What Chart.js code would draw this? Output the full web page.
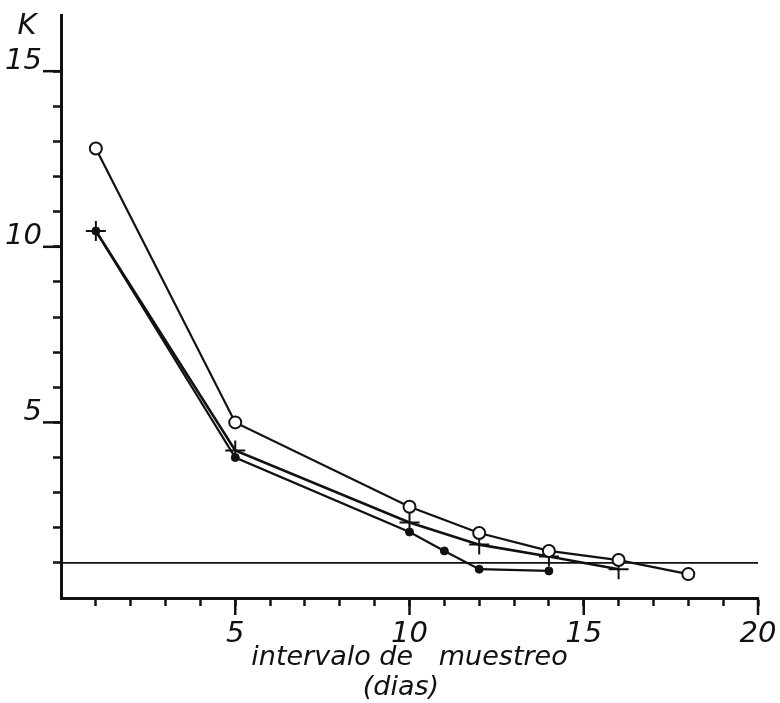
<!DOCTYPE html>
<html>
<head>
<meta charset="utf-8">
<script src="https://cdn.jsdelivr.net/npm/chart.js@4/dist/chart.umd.min.js"></script>
<style>
  html, body { margin: 0; padding: 0; background: #fff; }
  #wrap { width: 780px; height: 703px; }
</style>
</head>
<body>
<div id="wrap"><canvas id="chart" width="780" height="703"></canvas></div>
<script>
// sampling interval (days) and K for each of the three series
const circleDays = [1, 5, 10, 12, 14, 16, 18];
const circleK    = [12.8, 5.0, 2.6, 1.85, 1.34, 1.08, 0.68];
const crossDays  = [1, 5, 10, 12, 14, 16];
const crossK     = [10.45, 4.2, 2.15, 1.52, 1.18, 0.82];
const dotDays    = [1, 5, 10, 11, 12, 14];
const dotK       = [10.45, 4.0, 1.88, 1.34, 0.82, 0.77];
const refK = 1;

const xLabels = [5, 10, 15, 20];
const yLabels = [5, 10, 15];

const INK = '#111';
const labelFont = { family: 'DejaVu Sans', style: 'italic', size: 29 };

const toPoints = (xs, ys) => xs.map((x, i) => ({ x: x, y: ys[i] }));

// longer ticks at the labelled values, and the K at the top of the axis
const extras = {
    id: 'extras',
    afterDraw(chart) {
        const { ctx, scales: { x, y }, chartArea } = chart;
        ctx.save();
        ctx.strokeStyle = INK;
        ctx.lineWidth = 2.5;
        xLabels.forEach(v => {
            const px = x.getPixelForValue(v);
            ctx.beginPath();
            ctx.moveTo(px, chartArea.bottom);
            ctx.lineTo(px, chartArea.bottom + 17);
            ctx.stroke();
        });
        yLabels.forEach(v => {
            const py = y.getPixelForValue(v);
            ctx.beginPath();
            ctx.moveTo(chartArea.left - 18, py);
            ctx.lineTo(chartArea.left, py);
            ctx.stroke();
        });
        ctx.fillStyle = INK;
        ctx.font = 'italic 29px "DejaVu Sans"';
        ctx.textAlign = 'center';
        ctx.textBaseline = 'middle';
        ctx.fillText('K', 27, 26);
        ctx.restore();
    }
};

const ctx = document.getElementById('chart').getContext('2d');
const chart = new Chart(ctx, {
    type: 'line',
    data: {
        datasets: [{
            data: toPoints(circleDays, circleK),
            borderColor: INK,
            borderWidth: 2.2,
            pointStyle: 'circle',
            pointRadius: 6,
            pointBackgroundColor: '#fff',
            pointBorderColor: INK,
            pointBorderWidth: 2
        }, {
            data: toPoints(crossDays, crossK),
            borderColor: INK,
            borderWidth: 2.6,
            pointStyle: 'cross',
            pointRadius: 10,
            pointBorderColor: INK,
            pointBorderWidth: 2
        }, {
            data: toPoints(dotDays, dotK),
            borderColor: INK,
            borderWidth: 2.2,
            pointStyle: 'circle',
            pointRadius: 4,
            pointBackgroundColor: INK,
            pointBorderColor: INK,
            pointBorderWidth: 1
        }, {
            data: [{ x: 0, y: refK }, { x: 20, y: refK }],
            borderColor: INK,
            borderWidth: 1.6,
            pointRadius: 0
        }]
    },
    options: {
        responsive: false,
        animation: false,
        clip: false,
        layout: { padding: { top: 15, right: 22, left: 0, bottom: 0 } },
        plugins: {
            legend: { display: false },
            tooltip: { enabled: false }
        },
        elements: { line: { tension: 0 } },
        scales: {
            x: {
                type: 'linear',
                min: 0,
                max: 20,
                afterFit: s => { s.height = 105; s.paddingLeft = 0; s.paddingRight = 0; },
                afterBuildTicks: s => { s.ticks = s.ticks.filter(t => Number.isInteger(t.value) && t.value > 0); },
                border: { display: true, color: INK, width: 3 },
                grid: { drawOnChartArea: false, drawTicks: true, tickLength: 8, tickWidth: 2.5, tickColor: INK },
                ticks: {
                    stepSize: 1,
                    autoSkip: false,
                    maxRotation: 0,
                    padding: 11,
                    color: INK,
                    font: labelFont,
                    callback: v => xLabels.includes(v) ? String(v) : ''
                },
                title: {
                    display: true,
                    text: ['intervalo de   muestreo', '(dias)  '],
                    color: INK,
                    font: { family: 'DejaVu Sans', style: 'italic', size: 27, lineHeight: '30px' },
                    padding: { top: 0, bottom: 0 }
                }
            },
            y: {
                type: 'linear',
                min: 0,
                max: 16.6,
                afterFit: s => { s.width = 61; s.paddingTop = 0; s.paddingBottom = 0; },
                afterBuildTicks: s => { s.ticks = s.ticks.filter(t => Number.isInteger(t.value) && t.value > 0 && t.value <= 15); },
                border: { display: true, color: INK, width: 3 },
                grid: { drawOnChartArea: false, drawTicks: true, tickLength: 8, tickWidth: 2.5, tickColor: INK },
                ticks: {
                    stepSize: 1,
                    autoSkip: false,
                    padding: 11,
                    labelOffset: -10,
                    color: INK,
                    font: labelFont,
                    callback: v => yLabels.includes(v) ? String(v) : ''
                }
            }
        }
    },
    plugins: [extras]
});
</script>
</body>
</html>
